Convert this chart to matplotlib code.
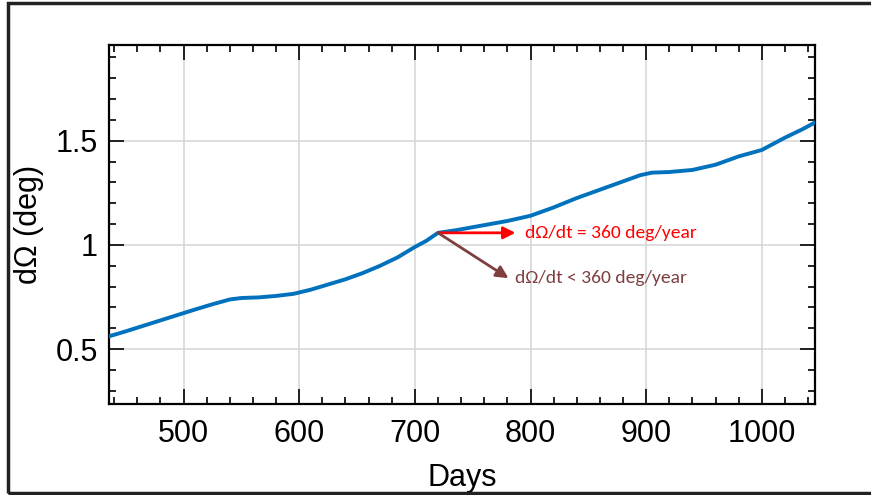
import matplotlib.pyplot as plt
from matplotlib.patches import Rectangle
from matplotlib.ticker import MultipleLocator

# values
days = [435, 450, 470, 490, 510, 525, 540, 550, 565, 580, 595, 610, 625,
        640, 655, 670, 685, 700, 710, 720, 735, 750, 765, 780, 800, 820,
        840, 860, 880, 895, 905, 920, 940, 960, 980, 1000, 1020, 1035, 1046]
omega = [0.56, 0.585, 0.62, 0.655, 0.69, 0.715, 0.738, 0.745, 0.748, 0.755,
         0.765, 0.785, 0.81, 0.835, 0.865, 0.9, 0.94, 0.99, 1.02, 1.058,
         1.07, 1.085, 1.10, 1.115, 1.14, 1.18, 1.225, 1.265, 1.305, 1.335,
         1.347, 1.35, 1.36, 1.385, 1.425, 1.456, 1.515, 1.555, 1.588]

corner = (720, 1.058)
arrow_eq_end = (787, 1.058)
arrow_lt_end = (781, 0.84)
label_eq = 'd\u03a9/dt = 360 deg/year'
label_lt = 'd\u03a9/dt < 360 deg/year'

plt.rcParams['font.family'] = ['Liberation Sans', 'DejaVu Sans']

fig = plt.figure(figsize=(8.71, 4.95), dpi=100)
ax = fig.add_axes([109 / 871, 1 - 404 / 495, (815 - 109) / 871, (404 - 45) / 495])

ax.plot(days, omega, color='#0072BD', linewidth=2.8, zorder=3,
        solid_joinstyle='round')

# arrows + notes
ax.annotate('', xy=arrow_eq_end, xytext=corner,
            arrowprops=dict(arrowstyle='-|>', color='#FF0000', lw=2,
                            mutation_scale=18, shrinkA=0, shrinkB=0), zorder=4)
ax.annotate('', xy=arrow_lt_end, xytext=corner,
            arrowprops=dict(arrowstyle='-|>', color='#7F3F3F', lw=2,
                            mutation_scale=18, shrinkA=0, shrinkB=0), zorder=4)
ax.text(795, 1.058, label_eq, color='#FF0000', fontsize=14,
        family=['Carlito', 'Lato', 'DejaVu Sans'], va='center')
ax.text(787, 0.84, label_lt, color='#7F3F3F', fontsize=14,
        family=['Carlito', 'Lato', 'DejaVu Sans'], va='center')

ax.set_xlim(435.5, 1046)
ax.set_ylim(0.236, 1.96)
ax.xaxis.set_major_locator(MultipleLocator(100))
ax.xaxis.set_minor_locator(MultipleLocator(20))
ax.yaxis.set_minor_locator(MultipleLocator(0.1))
ax.set_yticks([0.5, 1, 1.5])
ax.set_yticklabels(['0.5', '1', '1.5'])

ax.grid(True, which='major', color='#d4d4d4', linewidth=1.1)
ax.tick_params(which='both', direction='in', top=True, right=True,
               labelsize=22, width=1.2, pad=8)
ax.tick_params(axis='x', pad=11)
ax.tick_params(which='major', length=11)
ax.tick_params(which='minor', length=5)
for s in ax.spines.values():
    s.set_linewidth(1.6)

ax.set_xlabel('Days', fontsize=22, labelpad=10)
ax.set_ylabel('d\u03a9 (deg)', fontsize=22, labelpad=8)

# outer frame
fig.patches.append(Rectangle((8 / 871, 2 / 495), 1.2, 490 / 495,
                             transform=fig.transFigure, fill=False,
                             edgecolor='#222222', linewidth=2.5))

fig.savefig('out.png', dpi=100)
